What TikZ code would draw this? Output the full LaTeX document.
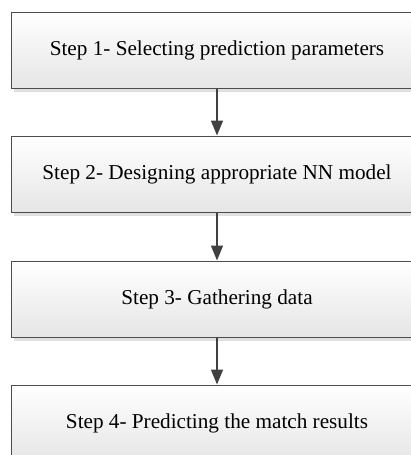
\documentclass[tikz,border=0pt]{standalone}
\usepackage{fontspec}
\setmainfont{Liberation Serif}
\usetikzlibrary{arrows.meta,shadows}
\begin{document}
\begin{tikzpicture}[x=1pt,y=-1pt,
  stepbox/.style={rectangle, draw=black!70, line width=1pt,
    top color=white, bottom color=black!10,
    minimum width=412pt, minimum height=76pt, inner sep=0pt,
    font=\fontsize{21.2}{24}\selectfont,
    drop shadow={shadow xshift=3pt, shadow yshift=-4pt, fill=black!12, opacity=1}},
  flow/.style={draw=black!75, line width=1.6pt,
    -{Triangle[length=15pt,width=12pt]}}]
\useasboundingbox (0,0) rectangle (411,455);
\node[stepbox] (s1) at (217,50) {Step 1- Selecting prediction parameters};
\node[stepbox] (s2) at (217,174) {Step 2- Designing appropriate NN model};
\node[stepbox] (s3) at (217,299) {Step 3- Gathering data};
\node[stepbox] (s4) at (217,423) {Step 4- Predicting the match results};
\draw[flow] (s1) -- (s2);
\draw[flow] (s2) -- (s3);
\draw[flow] (s3) -- (s4);
\end{tikzpicture}
\end{document}
